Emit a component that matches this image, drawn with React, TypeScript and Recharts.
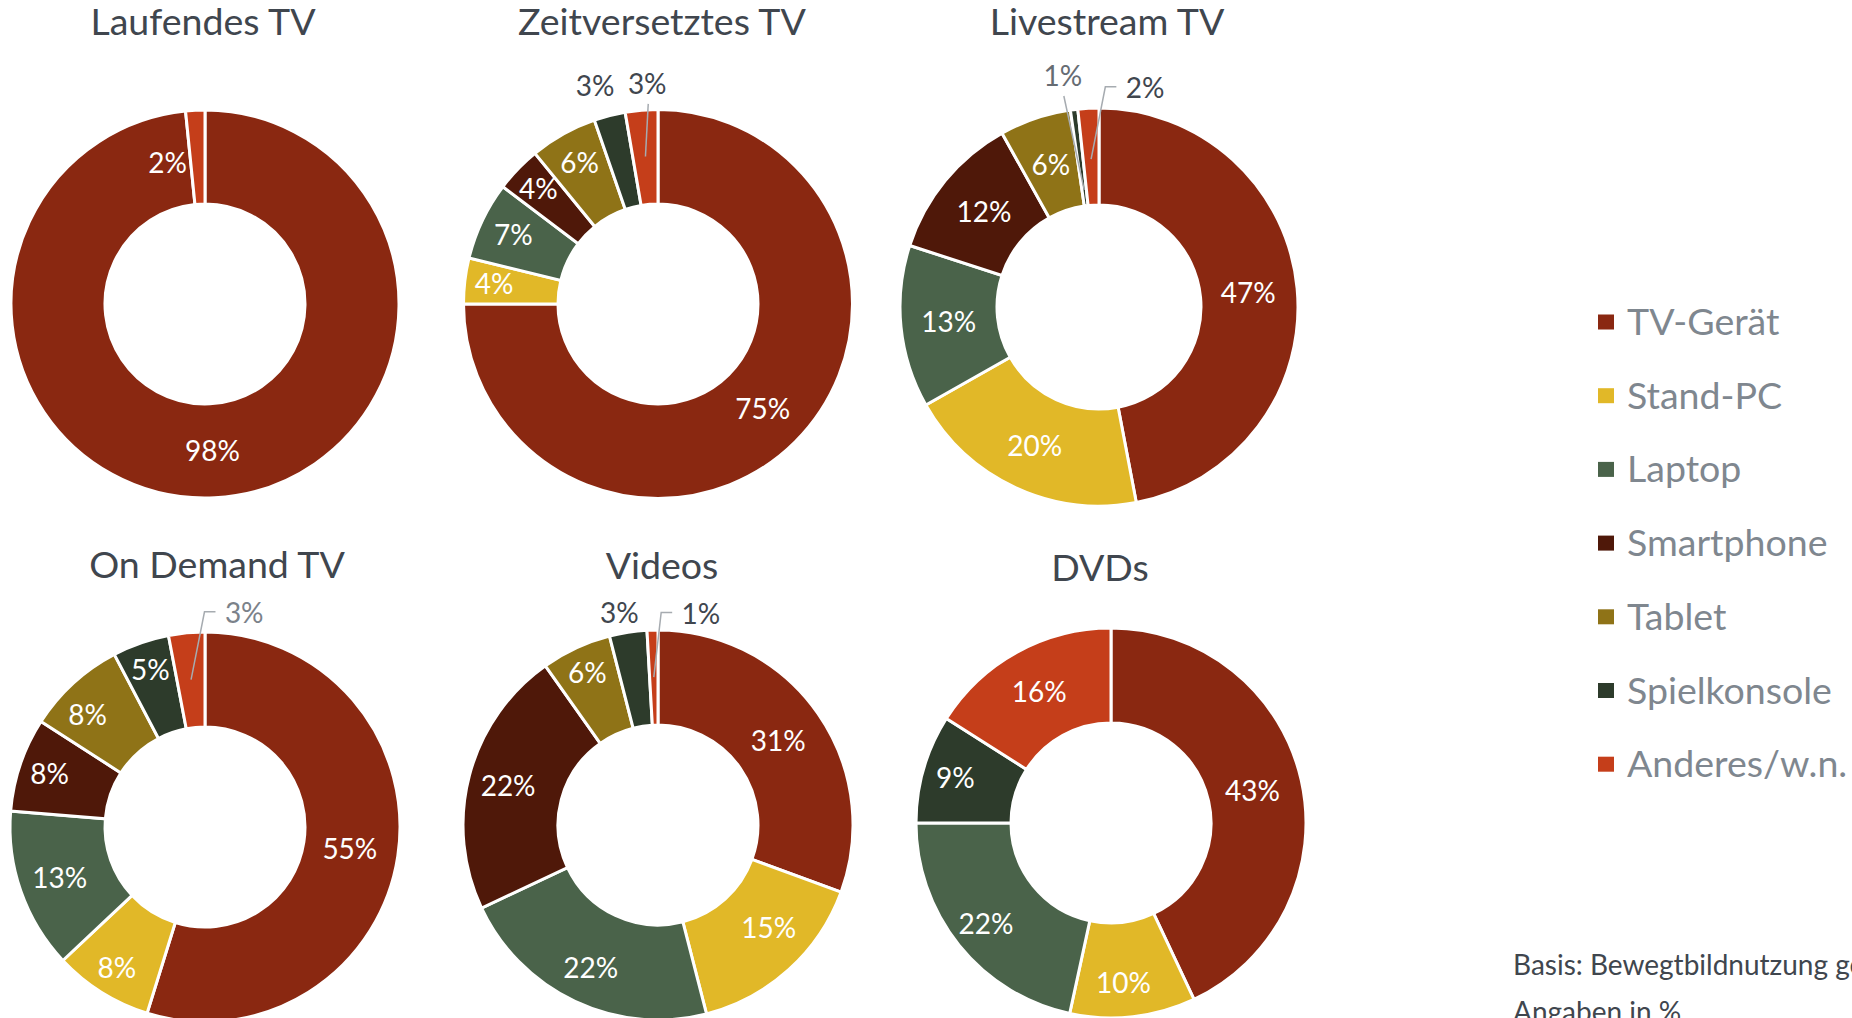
import React from 'react';
import { PieChart, Pie, Cell } from 'recharts';

// Geräte (Reihenfolge im Uhrzeigersinn ab 12 Uhr)
const DEVICES = ['TV-Gerät', 'Stand-PC', 'Laptop', 'Smartphone', 'Tablet', 'Spielkonsole', 'Anderes/w.n.'];
const COLORS = ['#8a2811', '#e1b828', '#4a634a', '#4f1809', '#8f7317', '#2d3b2b', '#c53e1a'];

const TITLES = ['Laufendes TV', 'Zeitversetztes TV', 'Livestream TV', 'On Demand TV', 'Videos', 'DVDs'];

// Anteile in %, je Nutzungsart
const laufendesTV = [98.4, 0, 0, 0, 0, 0, 1.6];
const zeitversetztesTV = [75, 3.8, 6.5, 3.8, 5.6, 2.6, 2.7];
const livestreamTV = [47, 19.8, 13.2, 11.9, 5.8, 0.6, 1.7];
const onDemandTV = [54.8, 8.2, 13.3, 7.8, 8.2, 4.7, 3.0];
const videos = [30.6, 15.4, 22, 22.2, 5.8, 3.1, 0.9];
const dvds = [43, 10.4, 21.6, 0, 0, 9, 16];

const SERIES = [laufendesTV, zeitversetztesTV, livestreamTV, onDemandTV, videos, dvds];

const FOOTNOTE = ['Basis: Bewegtbildnutzung gesamt', 'Angaben in %'];

// --- layout ---
const PIES = [
  { cx: 205, cy: 304, inner: 100, outer: 194 },
  { cx: 658, cy: 304, inner: 100, outer: 194.5 },
  { cx: 1099, cy: 307, inner: 102, outer: 199 },
  { cx: 205, cy: 827, inner: 100, outer: 195 },
  { cx: 658, cy: 825, inner: 100, outer: 195 },
  { cx: 1111, cy: 823, inner: 100, outer: 195 },
];

const TITLE_POS = [
  { x: 203, y: 35 },
  { x: 662, y: 35 },
  { x: 1107, y: 35 },
  { x: 217, y: 578 },
  { x: 662, y: 579 },
  { x: 1100, y: 581 },
];

type LabelSpec =
  | { r: number; nudge?: number }
  | { theta: number; R: number; leader?: 'straight' | 'kink'; leaderR?: number; color?: string }
  | null;

// label placement per slice: r = radius inside ring, theta/R = outside position
const LABELS: LabelSpec[][] = [
  [{ r: 147 }, null, null, null, null, null, { r: 146, nudge: -12 }],
  [{ r: 148 }, { r: 165 }, { r: 160 }, { r: 166 }, { r: 161 }, { theta: 343.9, R: 226.6 }, { theta: 357.2, R: 220.4, leader: 'straight' }],
  [{ r: 150 }, { r: 153 }, { r: 151 }, { r: 149 }, { r: 150 }, { theta: 351.1, R: 233.8, leader: 'straight', leaderR: 118, color: '#666c73' }, { theta: 11.9, R: 223.5, leader: 'kink' }],
  [{ r: 146.5 }, { r: 166 }, { r: 154 }, { r: 164 }, { r: 162, nudge: -4 }, { r: 166 }, { theta: 10.4, R: 217.3, leader: 'kink', color: '#7b828a' }],
  [{ r: 146.5 }, { r: 151, nudge: -5 }, { r: 158 }, { r: 155 }, { r: 168 }, { theta: 349.7, R: 215.8 }, { theta: 11.5, R: 215.3, leader: 'kink' }],
  [{ r: 145 }, { r: 160, nudge: 2 }, { r: 160.6 }, null, null, { r: 162 }, { r: 149 }],
];

const FONT = 'Lato, "Open Sans", sans-serif';
const DARK = '#40464e';
const GREY = '#7f878f';
const LEADER = '#a6abb0';
const LABEL_SIZE = 28;
const RAD = Math.PI / 180;

// theta: clockwise from 12 o'clock
const polar = (cx: number, cy: number, r: number, theta: number) => [
  cx + r * Math.sin(theta * RAD),
  cy - r * Math.cos(theta * RAD),
];

const makeLabel = (chart: number) => (props: any) => {
  const { cx, cy, midAngle, value, index } = props;
  const spec = LABELS[chart][index];
  if (!spec || !value) return null;
  const text = `${Math.round(value)}%`;
  const mid = 90 - midAngle;

  if ('r' in spec) {
    const [x, y] = polar(cx, cy, spec.r, mid + (spec.nudge || 0));
    return (
      <text x={x} y={y + 10} textAnchor="middle" fill="#fff" fontSize={LABEL_SIZE} fontFamily={FONT}>
        {text}
      </text>
    );
  }

  const [x, y] = polar(cx, cy, spec.R, spec.theta);
  const w = (text.length - 1) * 0.58 * LABEL_SIZE + 0.83 * LABEL_SIZE;
  const left = x - w / 2;
  const [sx, sy] = polar(cx, cy, spec.leaderR || 148, mid);
  let line = null;
  if (spec.leader === 'straight') {
    line = <polyline points={`${x + 1},${y + 20} ${sx},${sy}`} fill="none" stroke={LEADER} strokeWidth={1.5} />;
  } else if (spec.leader === 'kink') {
    line = (
      <polyline
        points={`${sx},${sy} ${left - 20},${y - 1.5} ${left - 9},${y - 1.5}`}
        fill="none"
        stroke={LEADER}
        strokeWidth={1.5}
      />
    );
  }
  return (
    <g>
      {line}
      <text x={x} y={y + 10} textAnchor="middle" fill={spec.color || DARK} fontSize={LABEL_SIZE} fontFamily={FONT}>
        {text}
      </text>
    </g>
  );
};

export default function App() {
  return (
    <div style={{ position: 'absolute', left: 0, top: 0, width: 1852, height: 1018, overflow: 'hidden', background: '#fff' }}>
      <PieChart width={1852} height={1018} margin={{ top: 0, right: 0, bottom: 0, left: 0 }}>
        {SERIES.map((values, i) => (
          <Pie
            key={TITLES[i]}
            data={values.map((v, j) => ({ name: DEVICES[j], value: v }))}
            dataKey="value"
            nameKey="name"
            cx={PIES[i].cx}
            cy={PIES[i].cy}
            innerRadius={PIES[i].inner}
            outerRadius={PIES[i].outer}
            startAngle={90}
            endAngle={-270}
            stroke="#fff"
            strokeWidth={3}
            label={makeLabel(i)}
            labelLine={false}
            isAnimationActive={false}
          >
            {values.map((_, j) => (
              <Cell key={j} fill={COLORS[j]} />
            ))}
          </Pie>
        ))}
      </PieChart>

      <svg width={1852} height={1018} style={{ position: 'absolute', left: 0, top: 0, pointerEvents: 'none' }}>
        {TITLES.map((t, i) => (
          <text key={t} x={TITLE_POS[i].x} y={TITLE_POS[i].y} textAnchor="middle" fill={DARK} fontSize={37.5} fontFamily={FONT}>
            {t}
          </text>
        ))}

        {DEVICES.map((d, i) => {
          const y = 322 + i * 73.7;
          return (
            <g key={d}>
              <rect x={1598} y={y - 7.5} width={16} height={15} fill={COLORS[i]} />
              <text x={1627} y={y + 13} fill={GREY} fontSize={37.5} fontFamily={FONT}>
                {d}
              </text>
            </g>
          );
        })}

        {FOOTNOTE.map((line, i) => (
          <text key={line} x={1513} y={975 + i * 47} fill={DARK} fontSize={28} fontFamily={FONT}>
            {line}
          </text>
        ))}
      </svg>
    </div>
  );
}
